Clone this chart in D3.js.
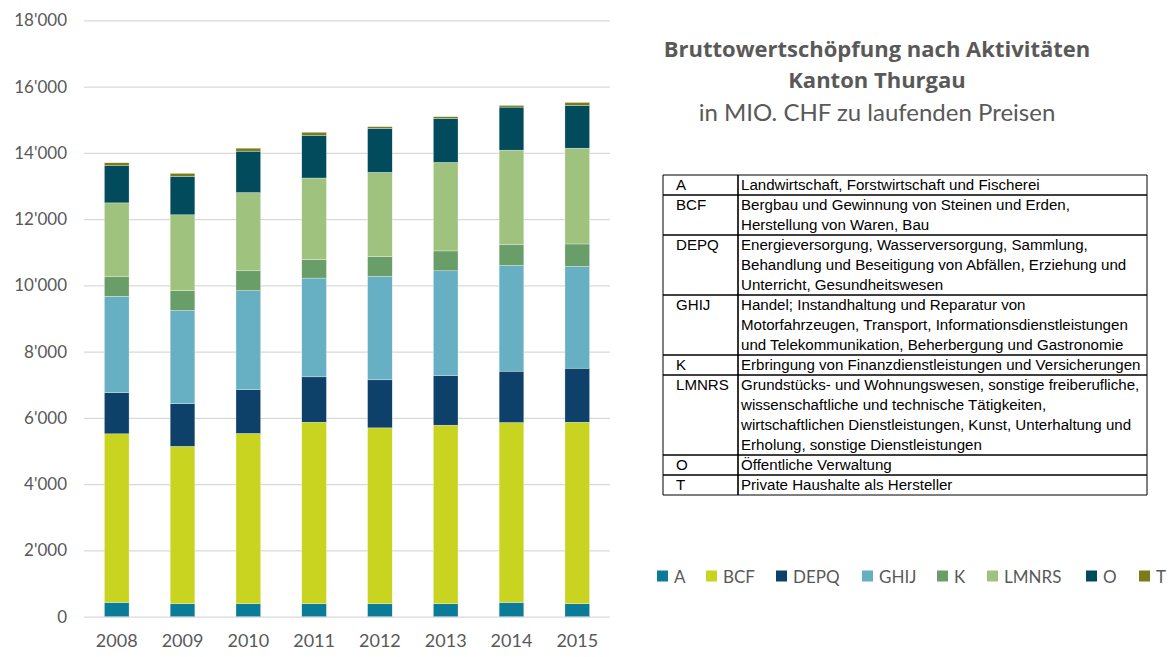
<!DOCTYPE html>
<html>
<head>
<meta charset="utf-8">
<script src="https://cdn.jsdelivr.net/npm/d3@7"></script>
<style>
  body { margin: 0; background: #fff; }
  svg { display: block; }
</style>
</head>
<body>
<svg id="chart" width="1169" height="657"></svg>
<script>
const years = ["2008", "2009", "2010", "2011", "2012", "2013", "2014", "2015"];
const sectors = ["A", "BCF", "DEPQ", "GHIJ", "K", "LMNRS", "O", "T"];

// Mio. CHF
const valA     = [430, 390, 390, 390, 390, 390, 430, 390];
const valBCF   = [5090, 4750, 5140, 5480, 5310, 5390, 5430, 5480];
const valDEPQ  = [1240, 1290, 1320, 1370, 1450, 1500, 1550, 1630];
const valGHIJ  = [2910, 2810, 2990, 2980, 3120, 3160, 3190, 3070];
const valK     = [590, 600, 600, 560, 600, 600, 640, 680];
const valLMNRS = [2230, 2290, 2360, 2460, 2540, 2670, 2840, 2890];
const valO     = [1120, 1160, 1250, 1290, 1330, 1330, 1300, 1290];
const valT     = [90, 90, 90, 90, 50, 50, 50, 90];

const yTicks = [0, 2000, 4000, 6000, 8000, 10000, 12000, 14000, 16000, 18000];

const colors = {
  A: "#0a7c97", BCF: "#c9d421", DEPQ: "#0d4169", GHIJ: "#67afc2",
  K: "#6a9e68", LMNRS: "#9fc37e", O: "#024b5d", T: "#7a7c17"
};

const tableRows = [
  ["A", ["Landwirtschaft, Forstwirtschaft und Fischerei"]],
  ["BCF", ["Bergbau und Gewinnung von Steinen und Erden,", "Herstellung von Waren, Bau"]],
  ["DEPQ", ["Energieversorgung, Wasserversorgung, Sammlung,", "Behandlung und Beseitigung von Abfällen, Erziehung und", "Unterricht, Gesundheitswesen"]],
  ["GHIJ", ["Handel; Instandhaltung und Reparatur von", "Motorfahrzeugen, Transport, Informationsdienstleistungen", "und Telekommunikation, Beherbergung und Gastronomie"]],
  ["K", ["Erbringung von Finanzdienstleistungen und Versicherungen"]],
  ["LMNRS", ["Grundstücks- und Wohnungswesen, sonstige freiberufliche,", "wissenschaftliche und technische Tätigkeiten,", "wirtschaftlichen Dienstleistungen, Kunst, Unterhaltung und", "Erholung, sonstige Dienstleistungen"]],
  ["O", ["Öffentliche Verwaltung"]],
  ["T", ["Private Haushalte als Hersteller"]]
];

const series = { A: valA, BCF: valBCF, DEPQ: valDEPQ, GHIJ: valGHIJ, K: valK, LMNRS: valLMNRS, O: valO, T: valT };
const rows = years.map((y, i) => {
  const r = { year: y };
  sectors.forEach(s => r[s] = series[s][i]);
  return r;
});

const font = "Lato, 'Open Sans', sans-serif";
const grey = "#595959";

const svg = d3.select("#chart");

const x = d3.scaleBand().domain(years).range([84, 610]).paddingInner(0.625).paddingOuter(0.31);
const y = d3.scaleLinear().domain([0, 18000]).range([616.7, 20.3]);

const loc = d3.formatLocale({ decimal: ".", thousands: "'", grouping: [3], currency: ["", ""] });
const fmt = loc.format(",");

// gridlines
svg.append("g")
  .attr("transform", "translate(84,0)")
  .call(d3.axisLeft(y).tickValues(yTicks).tickSize(-526).tickFormat(""))
  .call(g => g.select(".domain").remove())
  .call(g => g.selectAll("line").attr("stroke", "#d9d9d9").attr("stroke-width", 1.3));

// y labels
svg.append("g")
  .attr("transform", "translate(67,0)")
  .call(d3.axisLeft(y).tickValues(yTicks).tickSize(0).tickPadding(0).tickFormat(fmt))
  .call(g => g.select(".domain").remove())
  .call(g => g.selectAll("text")
    .attr("font-family", font).attr("font-size", 17).attr("fill", grey));

// x labels
svg.append("g")
  .attr("transform", "translate(0,634)")
  .call(d3.axisBottom(x).tickSize(0).tickPadding(0))
  .call(g => g.select(".domain").remove())
  .call(g => g.selectAll("text")
    .attr("font-family", font).attr("font-size", 18).attr("fill", grey));

// bars
const stacked = d3.stack().keys(sectors)(rows);
svg.append("g")
  .selectAll("g")
  .data(stacked)
  .join("g")
  .attr("fill", d => colors[d.key])
  .selectAll("rect")
  .data(d => d)
  .join("rect")
  .attr("x", d => x(d.data.year))
  .attr("width", x.bandwidth())
  .attr("y", d => y(d[1]))
  .attr("height", d => y(d[0]) - y(d[1]))
  .attr("stroke", "#fff")
  .attr("stroke-width", 0.5)
  .attr("stroke-opacity", 0.6);

// title
const title = svg.append("g").attr("fill", grey).attr("text-anchor", "middle");
title.append("text").attr("x", 877).attr("y", 57).attr("font-family", "'Open Sans', sans-serif")
  .attr("font-size", 22).attr("font-weight", "bold")
  .text("Bruttowertschöpfung nach Aktivitäten");
title.append("text").attr("x", 877).attr("y", 88).attr("font-family", "'Open Sans', sans-serif")
  .attr("font-size", 22).attr("font-weight", "bold")
  .text("Kanton Thurgau");
title.append("text").attr("x", 877).attr("y", 121).attr("font-family", font).attr("font-size", 24)
  .text("in MIO. CHF zu laufenden Preisen");

// table of sector codes
const tLeft = 663, tRight = 1147, tDiv = 738, tTop = 175, lineH = 20;
const table = svg.append("g").attr("font-family", "'Liberation Sans', Arial, sans-serif").attr("font-size", 15.1).attr("fill", "#000");
let yy = tTop;
const rowTops = [];
tableRows.forEach(([code, lines]) => {
  rowTops.push(yy);
  table.append("text").attr("x", tLeft + 13).attr("y", yy + 15).text(code);
  const t = table.append("text").attr("x", tDiv + 3).attr("y", yy + 15);
  lines.forEach((l, i) => t.append("tspan").attr("x", tDiv + 3).attr("dy", i === 0 ? 0 : lineH).text(l));
  yy += lines.length * lineH;
});
rowTops.push(yy);
table.selectAll("line.h")
  .data(rowTops)
  .join("line")
  .attr("x1", tLeft).attr("x2", tRight)
  .attr("y1", d => d).attr("y2", d => d)
  .attr("stroke", "#000").attr("stroke-width", (d, i) => (i === 0 || i === rowTops.length - 1) ? 1 : 1.6);
table.append("line").attr("x1", tLeft).attr("x2", tLeft).attr("y1", tTop).attr("y2", yy).attr("stroke", "#000");
table.append("line").attr("x1", tRight).attr("x2", tRight).attr("y1", tTop).attr("y2", yy).attr("stroke", "#000");
table.append("line").attr("x1", tDiv).attr("x2", tDiv).attr("y1", tTop).attr("y2", yy).attr("stroke", "#000").attr("stroke-width", 1.6);

// legend
const legendX = [657, 706, 776, 862, 937, 987, 1086, 1139];
const legend = svg.append("g").attr("font-family", font).attr("font-size", 17).attr("fill", grey);
const li = legend.selectAll("g").data(sectors).join("g")
  .attr("transform", (d, i) => `translate(${legendX[i]},576)`);
li.append("rect").attr("x", 0).attr("y", -5.5).attr("width", 11).attr("height", 11).attr("fill", d => colors[d]);
li.append("text").attr("x", 17).attr("y", 6.5).text(d => d);
</script>
</body>
</html>
